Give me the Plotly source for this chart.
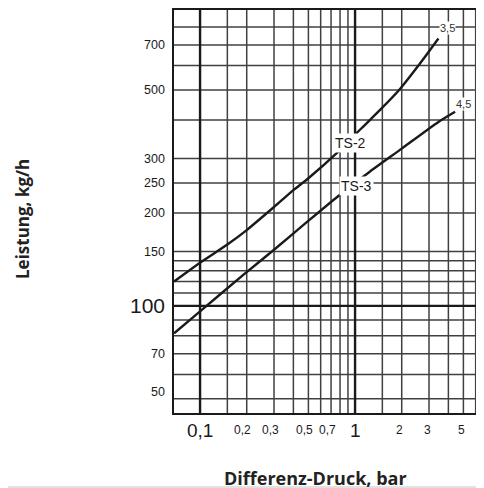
import math
import plotly.graph_objects as go

# Data
ts2_dp = [0.068, 0.1, 0.15, 0.2, 0.3, 0.4, 0.5, 0.78, 1.1, 1.45, 1.95, 2.63, 3.45]
ts2_kg = [120, 138, 158, 176, 209, 237, 259, 316, 376, 431, 504, 610, 734]
ts3_dp = [0.068, 0.1, 0.19, 0.3, 0.49, 0.78, 1.22, 2.0, 3.45, 4.42]
ts3_kg = [81.5, 96, 126, 152, 187, 227, 270, 323, 394, 425]

x_tick_vals = [0.1, 0.2, 0.3, 0.5, 0.7, 1, 2, 3, 5, 7]
x_tick_text = ["0,1", "0,2", "0,3", "0,5", "0,7", "1", "2", "3", "5", "7"]
x_big = ["0,1", "1"]
y_tick_vals = [50, 70, 100, 150, 200, 250, 300, 500, 700]
y_tick_text = ["50", "70", "100", "150", "200", "250", "300", "500", "700"]
y_big = ["100"]

x_grid_minor = [0.15, 0.2, 0.3, 0.4, 0.5, 0.6, 0.7, 0.8, 0.9, 1.5, 2, 3, 4, 5, 6, 7, 8, 9]
x_grid_major = [0.1, 1]
y_grid_minor = [50, 60, 70, 80, 90, 110, 120, 130, 140, 150, 200, 250, 300, 400, 500, 600, 700, 800]
y_grid_major = [100]

x_range = [math.log10(0.0679), math.log10(0.0679) + 318 / 155]
y_range = [math.log10(45), math.log10(908)]

INK = "#1a1a1a"
GRID = "#404040"
NARROW = "Liberation Sans Narrow, Arial Narrow, Liberation Sans, Arial, sans-serif"
REG = "Liberation Sans, Arial, sans-serif"
TITLE_FONT = "Open Sans, Lato, Arial, sans-serif"

fig = go.Figure()

fig.add_trace(go.Scatter(x=ts2_dp, y=ts2_kg, mode="lines",
                         line=dict(color=INK, width=2.4, shape="spline", smoothing=0.6),
                         hoverinfo="skip", showlegend=False))
fig.add_trace(go.Scatter(x=ts3_dp, y=ts3_kg, mode="lines",
                         line=dict(color=INK, width=2.4, shape="spline", smoothing=0.6),
                         hoverinfo="skip", showlegend=False))

shapes = []
for xv in x_grid_minor:
    shapes.append(dict(type="line", xref="x", yref="y domain", x0=xv, x1=xv, y0=0, y1=1,
                       line=dict(color=GRID, width=1.5), layer="below"))
for yv in y_grid_minor:
    shapes.append(dict(type="line", xref="x domain", yref="y", x0=0, x1=1, y0=yv, y1=yv,
                       line=dict(color=GRID, width=1.5), layer="below"))
for xv in x_grid_major:
    shapes.append(dict(type="line", xref="x", yref="y domain", x0=xv, x1=xv, y0=0, y1=1,
                       line=dict(color=INK, width=2.4), layer="below"))
for yv in y_grid_major:
    shapes.append(dict(type="line", xref="x domain", yref="y", x0=0, x1=1, y0=yv, y1=yv,
                       line=dict(color=INK, width=2.4), layer="below"))
# thin rule at the very bottom of the picture
shapes.append(dict(type="line", xref="paper", yref="paper", x0=-1, x1=2, y0=-74 / 403, y1=-74 / 403,
                   line=dict(color="#c4c4c4", width=1)))

annotations = []
span_x = x_range[1] - x_range[0]
for v, t in zip(x_tick_vals, x_tick_text):
    big = t in x_big
    px = (math.log10(v) - x_range[0]) / span_x
    shift = -4 if t.startswith("0,") and not big else (-2 if not big else 0)
    annotations.append(dict(x=px, y=0, xref="paper", yref="paper", text=t, showarrow=False,
                            xanchor="center", yanchor="middle", yshift=-17, xshift=shift,
                            font=dict(family=REG if big else NARROW, size=19 if big else 12, color=INK)))
for v, t in zip(y_tick_vals, y_tick_text):
    big = t in y_big
    ys = 7 if v == min(y_tick_vals) else 0
    annotations.append(dict(x=0, y=math.log10(v), xref="paper", yref="y", text=t, showarrow=False,
                            xanchor="right", yanchor="middle", xshift=-7, yshift=ys,
                            font=dict(family=REG if big else NARROW, size=21 if big else 12.5, color=INK)))

# curve labels
annotations += [
    dict(x=math.log10(0.938), y=math.log10(338), xref="x", yref="y", text="TS-2", showarrow=False,
         bgcolor="white", borderpad=1, font=dict(family=NARROW, size=14, color=INK)),
    dict(x=math.log10(1.015), y=math.log10(245), xref="x", yref="y", text="TS-3", showarrow=False,
         bgcolor="white", borderpad=1, font=dict(family=NARROW, size=14, color=INK)),
    dict(x=math.log10(3.92), y=math.log10(793), xref="x", yref="y", text="3,5", showarrow=False,
         bgcolor="white", borderpad=0, font=dict(family=NARROW, size=11, color="#333")),
    dict(x=math.log10(4.98), y=math.log10(451), xref="x", yref="y", text="4,5", showarrow=False,
         bgcolor="white", borderpad=0, font=dict(family=NARROW, size=11, color="#333")),
]

# axis titles
annotations += [
    dict(x=-152 / 318, y=(405 - 211) / 403, xref="paper", yref="paper", text="<b>Leistung, kg/h</b>",
         showarrow=False, textangle=-90, xanchor="center", yanchor="middle",
         font=dict(family=TITLE_FONT, size=17, color="#222")),
    dict(x=(307 - 166) / 318, y=-(470 - 405) / 403, xref="paper", yref="paper",
         text="<b>Differenz-Druck, bar</b>", showarrow=False, xanchor="center", yanchor="middle",
         font=dict(family=TITLE_FONT, size=18, color="#222")),
]

fig.update_layout(
    width=484, height=488,
    margin=dict(l=166, r=0, t=2, b=83),
    paper_bgcolor="white", plot_bgcolor="white",
    shapes=shapes, annotations=annotations,
    xaxis=dict(type="log", range=x_range, showgrid=False, zeroline=False, showticklabels=False,
               ticks="", showline=True, linecolor=INK, linewidth=2.4, mirror=True),
    yaxis=dict(type="log", range=y_range, showgrid=False, zeroline=False, showticklabels=False,
               ticks="", showline=True, linecolor=INK, linewidth=2.4, mirror=False),
)

fig.write_html("out.html")
